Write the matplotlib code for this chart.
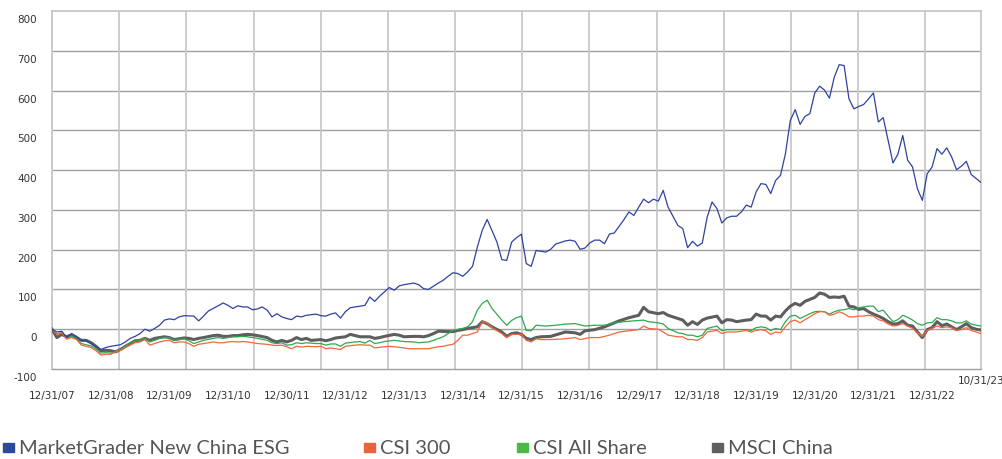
import numpy as np
import matplotlib
matplotlib.use('Agg')
import matplotlib.pyplot as plt
from matplotlib.patches import Rectangle
import matplotlib.transforms as mtransforms

# ── Data: months since 12/31/07, cumulative return (%) ───────────────────────
esg_month = [*range(0, 13), *range(14, 28), 29, 30, 31, 32, *range(34, 53),
             *range(54, 62), *range(63, 73), *range(74, 90), *range(91, 104),
             *range(105, 127), *range(128, 191)]
esg_value = [0, -7, -5, -21, -11, -18, -28, -29, -36, -44, -51, -46, -43,
             -39, -32, -23, -18, -11, 0, -5, 2, 10, 23, 26, 24, 31, 34,
             33, 21, 33, 46,
             59, 66, 60, 52, 59, 56, 56, 49, 51, 56, 48, 31, 39, 31, 27, 24, 33, 31, 35,
             38, 34, 33, 38, 41, 28, 44, 54,
             58, 60, 81, 70, 83, 94, 105, 98, 109, 112,
             116, 112, 102, 100, 108, 116, 123, 133, 142, 140, 133, 144, 158, 207, 249, 276,
             219, 175, 173, 219, 230, 239, 165, 158, 198, 196, 194, 201, 214,
             222, 224, 221, 201, 204, 217, 224, 224, 215, 239, 242, 259, 276, 295, 286,
             307, 327, 318, 327, 322, 349, 307,
             261, 253, 205, 221, 209, 217, 282, 320, 303, 267, 280, 284, 284, 295, 312,
             307, 345, 366, 364, 341, 374, 387, 441, 525, 552, 515, 535, 542, 594, 611,
             601, 581, 634, 665, 663, 579, 554, 560, 565, 579, 594, 521, 532, 475, 418,
             440, 487, 425, 408, 353, 324, 391, 408, 454, 440, 456, 433, 401, 410, 422,
             389, 379, 369]

msci_month = [*range(0, 32), *range(33, 43), *range(44, 54), 55, 56, 57, 58, 60, 61,
              62, 63, 65, 66, 67, 68, 70, 71, 72, 74, 75, 76, 77, 78, 79, 81, 82,
              83, 84, 85, 87, 88, 89, 90, 92, 93, 94, 95, 96, 97, 98, 99, 100, 102,
              105, 107, 108, 109, 111, 113, 116, 118, 120, 121, 122, 124, 125, 126,
              *range(128, 135), 136, 137, 138, 139, 140, *range(142, 191)]
msci_value = [0, -21, -13, -19, -14, -21, -28, -28, -34, -43, -54, -53, -54, -57,
              -51, -43, -36, -29, -28, -23, -28, -23, -21, -19, -21, -26, -24, -22,
              -23, -26, -23, -21,
              -16, -15, -18, -18, -16, -16, -14, -13, -14, -16,
              -21, -28, -32, -28, -32, -28, -21, -26, -23, -28,
              -26, -29, -26, -22, -19, -13, -16, -19, -19, -23, -21, -18, -13, -15,
              -19, -18, -18, -19, -16, -11, -5, -6, -6, -3, -1, 2, 6, 19, 14, 6,
              -7, -18, -11, -9, -13, -23, -26, -21, -19, -18, -7, -9, -13, -4, -1, 6,
              21, 29, 35, 55, 44, 39, 42, 35,
              27, 23, 10, 19, 12, 23, 28, 33, 16, 24, 23, 19,
              23, 24, 38, 33, 33, 23, 33, 31, 46, 58, 65, 60, 70, 75, 80, 91, 88, 80,
              81, 80, 83, 58, 56, 50, 52, 44, 38, 33, 27, 19, 13, 14, 21, 10, 8, -7,
              -21, -1, 4, 19, 9, 13, 6, -1, 6, 14, 4, 0, -2]

csi300_month = [*range(0, 32), *range(33, 43), *range(44, 53), 54, 55, 56, 57, 58,
                59, 60, 62, 63, 64, 65, 66, 68, 69, 70, 72, 73, 75, 76, 77, 79, 80,
                81, 82, 83, 84, 85, 87, 88, 89, 90, 92, 93, 94, 95, 96, 97, 98, 99,
                100, 102, 105, 107, 108, 110, 112, 114, 116, 118, 120, 121, 122, 124,
                125, 126, 128, 129, 130, 131, 132, 133, 134, 136, 137, 138, 140,
                *range(142, 191)]
csi300_value = [0, -13, -9, -25, -21, -26, -40, -43, -46, -54, -65, -63, -63, -57,
                -53, -46, -40, -34, -32, -26, -40, -36, -32, -29, -28, -34, -32, -32,
                -36, -43, -38, -36,
                -32, -34, -34, -32, -31, -32, -31, -32, -34, -36,
                -38, -40, -41, -40, -44, -49, -43, -45, -43,
                -44, -43, -49, -47, -49, -51, -43, -40, -39, -40, -40, -47, -44, -43,
                -44, -47, -49, -49, -49, -49, -44, -43, -40, -38, -28, -15, -15, -7,
                19, 16, 4, -11, -21, -13, -13, -13, -28, -32, -24, -26, -26, -24, -21,
                -26, -21, -21, -15, -7, -4, -1, 8, 2, 0, -7, -15, -19, -19, -26, -26,
                -28, -21, -7, -3, -11, -7, -7,
                -3, -7, -3, -1, -4, -13, -7, -9, 6, 19, 23, 16, 24, 31, 39, 44, 44, 35,
                38, 44, 39, 31, 31, 33, 33, 35, 33, 24, 21, 13, 8, 10, 14, 8, 2, -9, -18,
                -3, 2, 8, 4, 6, 4, -3, -1, 4, -3, -7, -11]

csiall_month = [*range(0, 32), *range(33, 43), *range(44, 53), 54, 55, 56, 57, 58,
                59, 60, 62, 63, 64, 65, 66, 67, 68, 70, 72, 74, 75, 77, 78, 80, 81,
                82, 84, 85, 86, 87, 88, 89, 90, 92, 93, 94, 95, 96, 97, 98, 99, 101,
                103, 105, 107, 109, 111, 113, 115, 117, 119, 121, 122, 124, 125, 126,
                128, 129, 130, 131, 132, 133, 134, 136, 137, 138, 140, *range(142, 191)]
csiall_value = [0, -12, -8, -22, -18, -24, -36, -39, -42, -50, -60, -59, -60, -57,
                -51, -43, -34, -30, -28, -23, -32, -28, -23, -21, -21, -28, -26, -24,
                -29, -36, -32, -28,
                -23, -21, -23, -21, -19, -19, -18, -19, -21, -23,
                -28, -34, -36, -34, -40, -39, -34, -36, -34,
                -36, -36, -40, -37, -37, -43, -35, -32, -31, -35, -28, -36, -34, -31,
                -28, -31, -32, -34, -32, -28, -19, -11, -3, 2, 6, 19, 48, 65, 73, 52,
                23, 10, 22, 29, 33, -3, -4, 10, 8, 10, 13, 14, 8, 10, 10, 16, 19, 21,
                23, 19, 16, 13, 2, -9, -11, -15, -15, -19, -15, 2, 8, -4, -1, -1,
                -1, -3, 4, 6, 4, -3, 2, -1, 19, 33, 35, 27, 33, 39, 44, 45, 44, 38,
                44, 48, 49, 52, 49, 54, 56, 58, 58, 44, 48, 33, 19, 24, 35, 30, 23, 14,
                10, 16, 17, 29, 24, 24, 21, 16, 16, 21, 13, 10, 8]

series_names = ['MarketGrader New China ESG', 'CSI 300', 'CSI All Share', 'MSCI China']
year_labels = ['12/31/07', '12/31/08', '12/31/09', '12/31/10', '12/30/11', '12/31/12',
               '12/31/13', '12/31/14', '12/31/15', '12/31/16', '12/29/17', '12/31/18',
               '12/31/19', '12/31/20', '12/31/21', '12/31/22']
end_label = '10/31/23'
y_ticks = list(range(-100, 801, 100))

# ── Style ─────────────────────────────────────────────────────────────────────
BLUE   = '#2E43A0'
ORANGE = '#F2673A'
GREEN  = '#2FA84F'
GRAY   = '#5E5E5E'
LEG_COLORS = ['#2B4A9B', '#E8643C', '#4DB848', '#606060']
TXT    = '#333333'
W, H = 1003, 459

fig = plt.figure(figsize=(W / 100, H / 100), dpi=100)
ax = fig.add_axes([52 / W, 1 - 369 / H, 929 / W, 358 / H])
ax.set_xlim(0, 190)
ax.set_ylim(-100, 800)

# grid: horizontal every 100, vertical every ~13.7 months
for v in y_ticks[1:-1]:
    ax.axhline(v, color='#a0a0a0', lw=1.0, zorder=1)
for gx in np.arange(14) * 13.74:
    ax.axvline(gx, color='#c8c8c8', lw=1.3, zorder=1)
for side in ['top', 'right', 'left']:
    ax.spines[side].set_color('#c8c8c8')
    ax.spines[side].set_linewidth(1.3)
ax.spines['bottom'].set_color('#a0a0a0')
ax.spines['bottom'].set_linewidth(1.0)
ax.set_xticks([])
ax.set_yticks([])

ax.plot(msci_month, msci_value, color=GRAY, lw=2.2, zorder=3, solid_joinstyle='round')
ax.plot(csiall_month, csiall_value, color=GREEN, lw=0.9, zorder=4)
ax.plot(csi300_month, csi300_value, color=ORANGE, lw=0.9, zorder=5)
ax.plot(esg_month, esg_value, color=BLUE, lw=0.9, zorder=6)

# y labels, sit a little below their grid line
off_y = mtransforms.ScaledTranslation(0, -9 / 100, fig.dpi_scale_trans)
yt = mtransforms.blended_transform_factory(ax.transAxes, ax.transData) + off_y
for v in y_ticks:
    ax.text(-15 / 929, v, str(v), transform=yt, ha='right', va='center',
            fontsize=7.5, color=TXT)

# x labels, one per year
xt = mtransforms.blended_transform_factory(ax.transData, ax.transAxes)
for i, lab in enumerate(year_labels):
    ax.text(i * 12, -27 / 358, lab, transform=xt, ha='center', va='center',
            fontsize=7.5, color=TXT)
ax.text(190, -12 / 358, end_label, transform=xt, ha='center', va='center',
        fontsize=7.5, color=TXT)

# legend along the bottom
leg_sq_x = [3, 364, 517, 712]
for x0, name, c in zip(leg_sq_x, series_names, LEG_COLORS):
    fig.add_artist(Rectangle((x0 / W, 7 / H), 11 / W, 9 / H, color=c,
                             transform=fig.transFigure))
    fig.text((x0 + 16) / W, 5 / H, name, ha='left', va='baseline',
             fontsize=14.5, family='Lato', color='#555555')

fig.savefig('out.png', dpi=100)
